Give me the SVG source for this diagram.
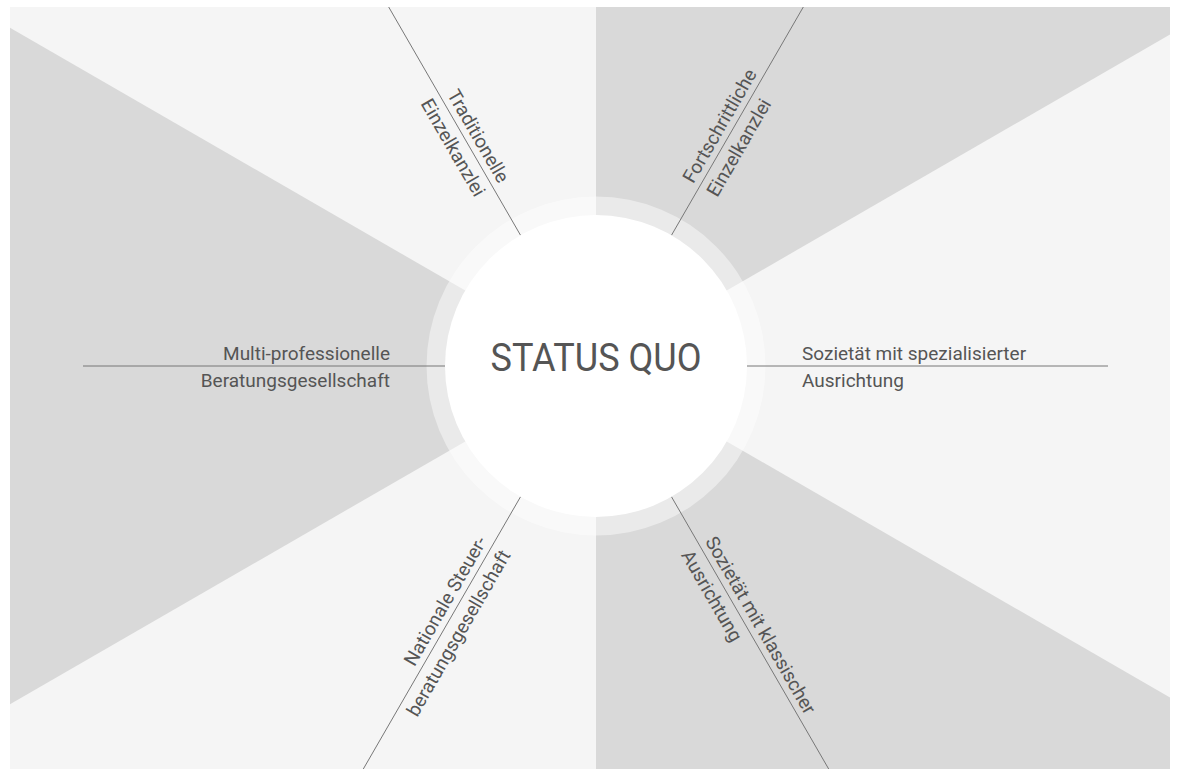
<svg xmlns="http://www.w3.org/2000/svg" width="1179" height="769" viewBox="0 0 1179 769">
  <style>
    .lbl { font-family: Roboto, "Liberation Sans", sans-serif; font-size: 19px; fill: #555555; }
    .title { font-family: Roboto, "Liberation Sans", sans-serif; font-size: 39px; fill: #555555; }
    .conn { stroke: #777777; stroke-width: 1; fill: none; }
    .light { fill: #f5f5f5; }
    .dark { fill: #d9d9d9; }
  </style>
  <rect width="1179" height="769" fill="#ffffff"/>
  <g id="background">
    <rect class="light" x="10" y="7" width="1160" height="762"/>
    <polygon class="dark" points="596,366 10,27.7 10,704.3"/>
    <polygon class="dark" points="596,366 596,7 1170,7 1170,34.6"/>
    <polygon class="dark" points="596,366 1170,697.4 1170,769 596,769"/>
  </g>
  <circle cx="596" cy="366" r="169.5" fill="#ffffff" fill-opacity="0.45"/>
  <g id="connectors">
    <line class="conn" x1="520.5" y1="235.2" x2="388.7" y2="7"/>
    <line class="conn" x1="671.5" y1="235.2" x2="803.3" y2="7"/>
    <line class="conn" x1="445" y1="366" x2="83" y2="366"/>
    <line class="conn" x1="747" y1="366" x2="1108" y2="366"/>
    <line class="conn" x1="520.5" y1="496.8" x2="363.3" y2="769"/>
    <line class="conn" x1="671.5" y1="496.8" x2="828.7" y2="769"/>
  </g>
  <g id="status-quo">
    <circle cx="596" cy="366" r="151" fill="#ffffff"/>
    <text class="title" x="596" y="370.7" text-anchor="middle" textLength="211" lengthAdjust="spacingAndGlyphs">STATUS QUO</text>
  </g>
  <g id="traditionelle-einzelkanzlei" transform="translate(493,187.6) rotate(60)">
    <text class="lbl" x="0" y="-6.5" text-anchor="end">Traditionelle</text>
    <text class="lbl" x="0" y="21" text-anchor="end">Einzelkanzlei</text>
  </g>
  <g id="fortschrittliche-einzelkanzlei" transform="translate(699,187.6) rotate(-60)">
    <text class="lbl" x="0" y="-6.5">Fortschrittliche</text>
    <text class="lbl" x="0" y="21">Einzelkanzlei</text>
  </g>
  <g id="multi-professionelle" transform="translate(390,366)">
    <text class="lbl" x="0" y="-6.5" text-anchor="end">Multi-professionelle</text>
    <text class="lbl" x="0" y="21" text-anchor="end">Beratungsgesellschaft</text>
  </g>
  <g id="sozietaet-spezialisiert" transform="translate(802,366)">
    <text class="lbl" x="0" y="-6.5">Sozietät mit spezialisierter</text>
    <text class="lbl" x="0" y="21">Ausrichtung</text>
  </g>
  <g id="nationale-steuerberatung" transform="translate(493,544.4) rotate(-60)">
    <text class="lbl" x="0" y="-6.5" text-anchor="end">Nationale Steuer-</text>
    <text class="lbl" x="0" y="21" text-anchor="end">beratungsgesellschaft</text>
  </g>
  <g id="sozietaet-klassisch" transform="translate(699,544.4) rotate(60)">
    <text class="lbl" x="0" y="-6.5">Sozietät mit klassischer</text>
    <text class="lbl" x="0" y="21">Ausrichtung</text>
  </g>
</svg>
